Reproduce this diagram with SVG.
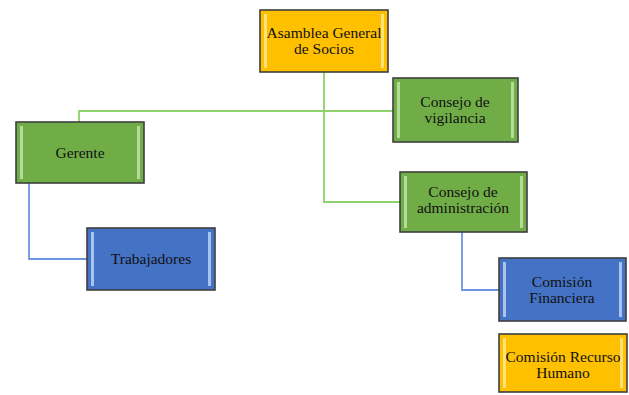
<svg xmlns="http://www.w3.org/2000/svg" width="629" height="395" viewBox="0 0 629 395">
<style>
.box{stroke:#3f3f3f;stroke-width:1.6}
.y{fill:#ffc000}.g{fill:#70ad47}.b{fill:#4472c4}
.hy{fill:#ffe27a}.hg{fill:#b5dc96}.hb{fill:#a9c2ee}
.t{font-size:15.5px;fill:#111111;text-anchor:middle}
.cg{fill:none;stroke:#8fd16a;stroke-width:1.8}
.cb{fill:none;stroke:#6f94e0;stroke-width:1.8}
</style>
<rect width="629" height="395" fill="#ffffff"/>
<g id="connectors">
<polyline class="cg" points="324,72 324,202 400,202"/>
<polyline class="cg" points="79,122 79,111 393,111"/>
<polyline class="cb" points="29,183 29,259 87,259"/>
<polyline class="cb" points="462,232 462,290 499,290"/>
</g>
<g font-family="'Liberation Serif', 'Times New Roman', 'DejaVu Serif', serif">
<g id="asamblea">
<rect class="box y" x="260" y="10" width="128" height="62"/>
<rect class="hy" x="264" y="14" width="3" height="54"/><rect class="hy" x="381" y="14" width="3" height="54"/>
<text class="t" x="324" y="38">Asamblea General</text>
<text class="t" x="324" y="54">de Socios</text>
</g>
<g id="vigilancia">
<rect class="box g" x="393" y="78" width="125" height="64"/>
<rect class="hg" x="397" y="82" width="3" height="56"/><rect class="hg" x="511" y="82" width="3" height="56"/>
<text class="t" x="455" y="107">Consejo de</text>
<text class="t" x="455" y="123">vigilancia</text>
</g>
<g id="gerente">
<rect class="box g" x="16" y="122" width="128" height="61"/>
<rect class="hg" x="20" y="126" width="3" height="53"/><rect class="hg" x="137" y="126" width="3" height="53"/>
<text class="t" x="80" y="158">Gerente</text>
</g>
<g id="trabajadores">
<rect class="box b" x="87" y="228" width="128" height="62"/>
<rect class="hb" x="91" y="232" width="3" height="54"/><rect class="hb" x="208" y="232" width="3" height="54"/>
<text class="t" x="151" y="264">Trabajadores</text>
</g>
<g id="administracion">
<rect class="box g" x="400" y="172" width="127" height="60"/>
<rect class="hg" x="404" y="176" width="3" height="52"/><rect class="hg" x="520" y="176" width="3" height="52"/>
<text class="t" x="463" y="197">Consejo de</text>
<text class="t" x="463" y="213">administración</text>
</g>
<g id="financiera">
<rect class="box b" x="499" y="258" width="127" height="63"/>
<rect class="hb" x="503" y="262" width="3" height="55"/><rect class="hb" x="619" y="262" width="3" height="55"/>
<text class="t" x="562" y="287">Comisión</text>
<text class="t" x="562" y="303">Financiera</text>
</g>
<g id="recurso-humano">
<rect class="box y" x="499" y="334" width="128" height="58"/>
<rect class="hy" x="503" y="338" width="3" height="50"/><rect class="hy" x="620" y="338" width="3" height="50"/>
<text class="t" x="563" y="362">Comisión Recurso</text>
<text class="t" x="563" y="378">Humano</text>
</g>
</g>
</svg>
